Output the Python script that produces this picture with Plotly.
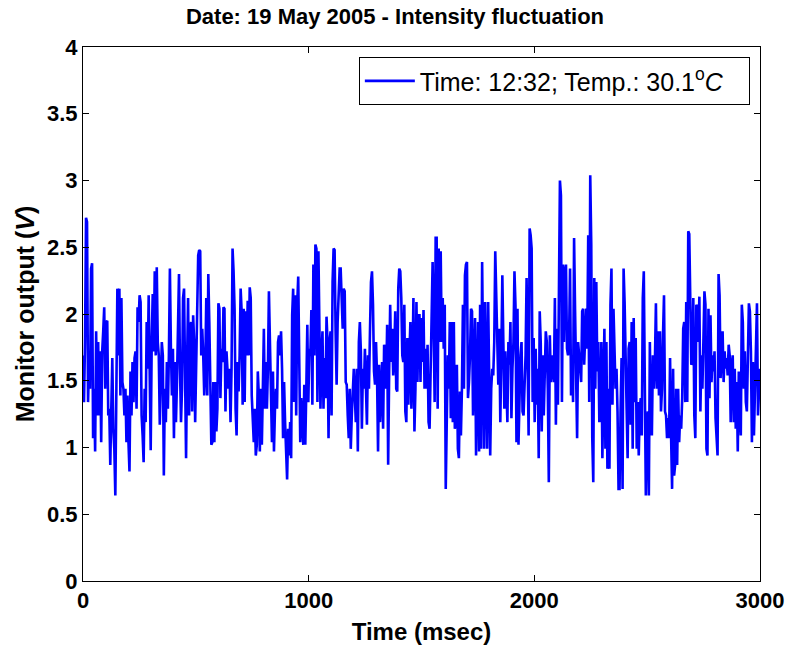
import numpy as np
import plotly.graph_objects as go

# Monitor output (V), segment by segment (0 -> 3000 msec)
seg1 = [1.69, 1.34, 1.79, 2.72, 2.69, 1.34, 1.64, 1.44, 2.34, 2.38,
        1.07, 1.44, 0.97, 1.87, 1.24, 1.79, 1.24, 1.72, 1.04, 1.72,
        1.87, 2.05, 1.44, 1.94, 1.95, 1.24, 1.29, 0.87, 1.29, 1.67,
        1.14, 0.99, 0.64, 1.44, 2.19, 1.69, 2.19, 1.39, 2.12, 1.49,
        1.44, 1.24, 1.44, 1.04, 1.39, 1.04, 0.82, 1.57, 1.24, 1.64,
        1.34, 1.67, 1.72, 1.29, 2.05, 1.94, 2.14, 2.09, 1.24, 1.09,
        0.89, 1.44, 1.19, 1.94, 1.59, 2.14, 1.69, 0.98, 1.79, 2.15,
        1.72, 2.32, 1.69, 2.35, 1.79, 1.69, 1.17, 1.44, 1.79, 1.69,
        0.79, 1.44, 1.19, 1.64, 1.29, 1.69, 2.34, 1.74, 1.39, 1.74,
        1.07, 1.64, 1.19, 1.49, 2.04, 2.30, 1.59, 1.19, 1.44, 2.12,
        2.19, 1.39, 0.92, 1.64, 2.12, 1.24, 1.89]
seg2 = [1.94, 1.27, 1.99, 1.79, 1.19, 1.69, 1.84, 2.44, 2.48, 2.47,
        1.69, 1.89, 1.69, 1.39, 1.59, 2.12, 1.39, 2.30, 1.94, 1.49,
        1.02, 1.04, 1.49, 1.04, 1.49, 1.12, 1.29, 2.08, 2.04, 1.37,
        1.74, 1.64, 2.05, 2.04, 1.27, 1.72, 1.59, 1.44, 1.59, 1.19,
        1.59, 2.49, 2.32, 2.04, 1.29, 1.09, 1.64, 1.42, 1.69, 2.19,
        2.02, 1.32, 2.04, 1.34, 2.02, 1.69, 2.10, 1.69, 2.20, 2.12,
        1.39, 1.14, 1.04, 1.29, 0.94, 1.02, 1.57, 1.39, 0.97, 1.44,
        1.02, 1.44, 1.89, 1.29, 1.64, 1.29, 1.59, 2.17, 1.67, 1.29,
        1.04, 1.57, 0.97, 1.29, 1.44, 1.29, 1.79, 1.84, 1.69, 1.87,
        1.59, 1.07, 1.49, 1.19, 0.94, 0.76, 1.14, 0.94, 1.19, 0.92,
        1.99, 2.19, 1.34, 2.14, 1.24, 2.07, 2.28, 1.47, 1.04, 1.37,
        1.19, 1.02, 1.47]
seg3 = [1.02, 1.44, 1.92, 1.34, 1.74, 1.69, 2.03, 1.32, 2.37, 1.69,
        2.52, 2.49, 1.34, 2.47, 1.79, 1.29, 1.69, 1.87, 1.29, 1.67,
        1.37, 1.98, 1.79, 1.07, 1.79, 1.87, 1.24, 2.24, 2.49, 2.48,
        1.87, 1.47, 1.94, 2.14, 2.34, 2.34, 2.14, 1.89, 2.19, 2.17,
        1.49, 1.47, 1.24, 1.07, 1.44, 0.99, 1.24, 1.39, 1.59, 1.39,
        1.19, 1.59, 0.97, 1.79, 1.94, 1.72, 1.14, 1.59, 1.44, 1.74,
        1.47, 1.17, 1.69, 1.44, 1.87, 2.24, 2.32, 2.07, 1.57, 1.47,
        1.79, 1.54, 0.97, 1.62, 1.19, 1.44, 1.64, 1.14, 1.77, 1.69,
        1.44, 1.92, 0.87, 1.57, 2.07, 1.64, 1.89, 1.54, 1.69, 2.02,
        1.44, 1.42, 2.19, 2.34, 2.32, 2.12, 1.69, 1.64, 2.07, 1.27,
        1.19, 1.82, 1.32, 1.69, 1.94, 1.29, 1.57, 2.12, 1.12, 1.44,
        2.09, 1.49, 1.99]
seg4 = [1.99, 1.49, 1.97, 1.64, 2.03, 1.44, 1.74, 1.44, 1.77, 1.19,
        1.14, 1.69, 1.92, 2.39, 1.94, 1.34, 2.57, 2.57, 1.29, 2.49,
        1.79, 2.47, 1.79, 2.12, 1.74, 2.07, 0.69, 1.24, 1.69, 1.44,
        1.94, 1.22, 1.94, 1.19, 1.94, 1.14, 1.22, 1.62, 0.99, 0.92,
        1.42, 1.09, 1.44, 2.07, 1.44, 2.29, 2.37, 2.39, 1.37, 1.49,
        1.69, 2.04, 2.02, 1.24, 1.69, 1.97, 0.94, 1.44, 1.94, 0.97,
        2.07, 0.99, 2.39, 1.64, 0.99, 2.09, 1.44, 0.99, 2.09, 1.67,
        0.94, 1.44, 1.59, 1.54, 1.79, 2.47, 2.07, 1.84, 1.47, 1.89,
        1.19, 1.69, 2.29, 1.79, 1.29, 1.72, 1.44, 1.19, 1.79, 1.62,
        1.94, 1.22, 1.59, 1.79, 2.32, 2.07, 1.04, 2.04, 1.02, 1.44,
        1.69, 1.79, 1.27, 1.24, 1.44, 1.69, 2.27, 1.37, 1.09, 2.64,
        2.59, 2.49, 1.34]
seg5 = [1.82, 1.19, 1.74, 1.32, 1.59, 0.92, 2.02, 1.79, 1.12, 1.69,
        1.24, 1.69, 1.87, 1.79, 1.44, 0.74, 1.84, 1.49, 1.64, 1.69,
        1.49, 2.12, 1.17, 1.89, 1.32, 2.37, 3.00, 2.89, 1.34, 2.37,
        1.79, 2.32, 2.37, 1.74, 1.69, 1.79, 2.34, 1.39, 1.69, 1.34,
        2.57, 2.02, 1.34, 1.07, 1.79, 1.69, 1.62, 1.49, 2.02, 2.04,
        1.62, 1.79, 2.04, 1.74, 2.59, 1.34, 3.04, 2.52, 1.07, 0.74,
        2.27, 1.44, 2.24, 1.57, 1.79, 1.19, 1.24, 1.79, 0.92, 1.44,
        1.89, 0.99, 1.79, 0.84, 1.44, 0.84, 2.07, 2.34, 1.32, 2.04,
        1.69, 1.44, 1.59, 1.27, 0.69, 0.69, 1.27, 1.67, 0.69, 2.34,
        2.09, 1.79, 1.29, 0.92, 1.74, 1.79, 1.17, 1.94, 0.99, 1.97,
        1.34, 1.82, 0.99, 1.34, 0.94, 1.29, 1.37, 1.09, 2.12, 2.32,
        1.39, 0.64, 1.19]
seg6 = [1.27, 0.64, 1.79, 1.24, 1.09, 1.69, 1.44, 1.64, 2.08, 1.44,
        1.87, 1.39, 1.87, 1.27, 1.44, 1.84, 2.14, 1.27, 1.24, 1.07,
        1.22, 1.07, 1.67, 1.09, 0.69, 1.59, 0.79, 0.87, 1.44, 0.87,
        1.44, 1.04, 1.24, 1.14, 1.37, 1.89, 1.94, 1.34, 2.09, 1.34,
        2.62, 2.60, 2.19, 1.62, 1.64, 2.12, 1.24, 1.07, 2.07, 2.04,
        1.79, 2.13, 1.27, 1.69, 1.44, 1.79, 2.17, 2.07, 0.99, 0.94,
        2.04, 1.37, 1.99, 1.49, 1.69, 1.57, 1.72, 1.22, 1.02, 0.94,
        2.30, 2.14, 1.52, 1.69, 1.87, 1.49, 1.72, 1.59, 1.67, 1.54,
        1.77, 1.69, 1.19, 1.62, 1.69, 1.19, 1.59, 1.14, 1.49, 0.97,
        1.57, 1.27, 1.09, 2.07, 1.94, 1.44, 1.72, 1.34, 1.27, 1.67,
        2.08, 2.02, 1.72, 1.04, 1.64, 1.09, 1.39, 1.74, 2.08, 1.24,
        1.49, 1.59]

voltage = seg1 + seg2 + seg3 + seg4 + seg5 + seg6
t_start, t_end = 0, 3000          # msec
time_ms = np.linspace(t_start, t_end, len(voltage))

x_ticks = [0, 1000, 2000, 3000]
x_ticklabels = ["0", "1000", "2000", "3000"]
y_ticks = [0, 0.5, 1, 1.5, 2, 2.5, 3, 3.5, 4]
y_ticklabels = ["0", "0.5", "1", "1.5", "2", "2.5", "3", "3.5", "4"]

FONT = "Liberation Sans, Arial, sans-serif"

fig = go.Figure()
fig.add_trace(go.Scatter(
    x=time_ms, y=voltage, mode="lines",
    line=dict(color="#0000FF", width=2.6),
    name="Time: 12:32; Temp.: 30.1<sup>o</sup><i>C</i>&nbsp;&nbsp;&nbsp;",
    showlegend=True,
))

fig.update_layout(
    width=790, height=651,
    margin=dict(l=83, r=30, t=47, b=70, autoexpand=False),
    paper_bgcolor="white", plot_bgcolor="white",
    font=dict(family=FONT, color="black"),
    title=dict(text="<b>Date: 19 May 2005 - Intensity fluctuation</b>",
               x=0.5, xanchor="center", y=0.975, yanchor="middle",
               font=dict(size=22, family=FONT)),
    legend=dict(x=0.985, y=0.981, xanchor="right", yanchor="top",
                bgcolor="white", bordercolor="black", borderwidth=1,
                itemwidth=50,
                font=dict(size=25, family=FONT)),
    showlegend=True,
)
fig.update_xaxes(
    range=[0, 3000], tickvals=x_ticks, ticktext=x_ticklabels,
    showline=True, linecolor="black", linewidth=1, mirror="ticks",
    ticks="inside", ticklen=6, tickcolor="black", automargin=False,
    showgrid=False, zeroline=False, ticklabeloverflow="allow",
    tickfont=dict(size=22, family=FONT, weight="bold"),
    title=dict(text="<b>Time (msec)</b>", font=dict(size=24, family=FONT), standoff=10),
)
fig.update_yaxes(
    range=[0, 4], tickvals=y_ticks, ticktext=y_ticklabels,
    showline=True, linecolor="black", linewidth=1, mirror="ticks",
    ticks="inside", ticklen=6, tickcolor="black", automargin=False,
    showgrid=False, zeroline=False,
    tickfont=dict(size=22, family=FONT, weight="bold"),
    title=dict(text="<b>Monitor output (<i>V</i>)</b>", font=dict(size=25, family=FONT), standoff=5),
)

fig.write_html("out.html")
